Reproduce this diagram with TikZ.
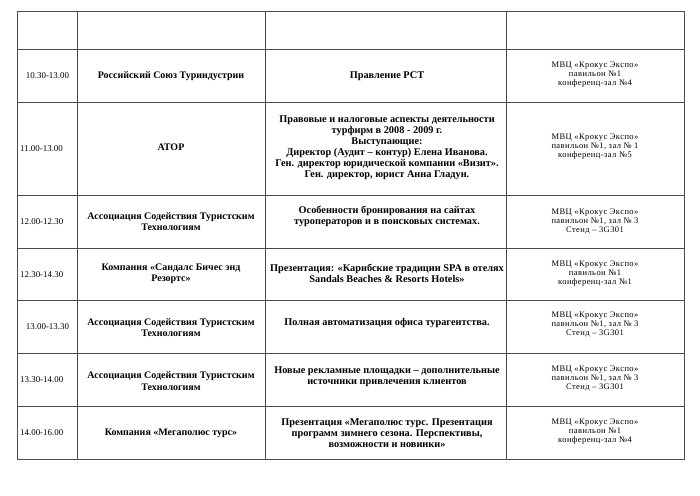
\documentclass[tikz,border=0pt]{standalone}
\usepackage{fontspec}
\setmainfont{Liberation Serif}
\newfontfamily\venuefont[LetterSpace = 5]{Liberation Serif}

\newcommand{\mvc}{МВЦ «Крокус Экспо»}
\newcommand{\acst}{Ассоциация Содействия Туристским\\Технологиям}

\begin{document}
\begin{tikzpicture}[x = 1pt, y = -1pt, every node/.style = {inner sep = 0pt,
	align = center},
	tm/.style = {font = \fontsize{8.9}{10.5}\selectfont},
	org/.style = {font = \fontsize{10}{11.3}\selectfont\bfseries},
	topic/.style = {font = \fontsize{10.3}{11}\selectfont\bfseries},
	venue/.style = {font = \venuefont\fontsize{8.5}{9}\selectfont},
	rule/.style = {draw = black!70, line width = 0.8pt}]

	\useasboundingbox (0, 0) rectangle (700, 495);

	\foreach \y in {49.5, 102.5, 195, 248.3, 300, 353.3, 406.3}
		\draw [rule] (17.5, \y) -- (684.5, \y);
	\foreach \x in {77, 265.5, 506.7}
		\draw [rule] (\x, 12) -- (\x, 459);
	\draw [rule, line width = 1pt] (17.5, 12) rectangle (684.5, 459);

		\node (T2) at (47.5,  76)   [tm] {10.30-13.00};
		\node (T3) at (20,  148.5) [tm, anchor = west] {11.00-13.00};
		\node (T4) at (20,  221.5) [tm, anchor = west] {12.00-12.30};
		\node (T5) at (20,  274.5) [tm, anchor = west] {12.30-14.30};
		\node (T6) at (47.5, 326.7) [tm] {13.00-13.30};
		\node (T7) at (20,  380)   [tm, anchor = west] {13.30-14.00};
		\node (T8) at (20,  433)   [tm, anchor = west] {14.00-16.00};

		\node (ORG2) at (171,  76)   [org] {Российский Союз Туриндустрии};
		\node (ORG3) at (171, 147)   [org] {АТОР};
		\node (ORG4) at (171, 221.7) [org] {\acst};
		\node (ORG5) at (171, 274)   [org] {Компания «Сандалс Бичес энд\\Резортс»};
		\node (ORG6) at (171, 327.5) [org] {\acst};
		\node (ORG7) at (171, 381)   [org] {\acst};
		\node (ORG8) at (171, 433.3) [org] {Компания «Мегаполюс турс»};

		\node (TOP2) at (387,  76)   [topic] {Правление РСТ};
		\node (TOP3) at (387, 148.2) [topic] {Правовые и налоговые аспекты деятельности\\
			турфирм в 2008 - 2009 г.\\Выступающие:\\
			Директор (Аудит – контур) Елена Иванова.\\
			Ген. директор юридической компании «Визит».\\
			Ген. директор, юрист Анна Гладун.};
		\node (TOP4) at (387, 216.7) [topic] {Особенности бронирования на сайтах\\
			туроператоров и в поисковых системах.};
		\node (TOP5) at (387, 273)   [topic] {Презентация: «Карибские традиции SPA в отелях\\
			Sandals Beaches \& Resorts Hotels»};
		\node (TOP6) at (387, 323.3) [topic] {Полная автоматизация офиса турагентства.};
		\node (TOP7) at (387, 376.3) [topic] {Новые рекламные площадки – дополнительные\\
			источники привлечения клиентов};
		\node (TOP8) at (387, 432.8) [topic] {Презентация «Мегаполюс турс. Презентация\\
			программ зимнего сезона. Перспективы,\\возможности и новинки»};

		\node (VEN2) at (595,  74.5) [venue] {\mvc\\павильон №1\\конференц-зал №4};
		\node (VEN3) at (595, 146.7) [venue] {\mvc\\павильон №1, зал № 1\\конференц-зал №5};
		\node (VEN4) at (595, 221.5) [venue] {\mvc\\павильон №1, зал № 3\\Стенд – 3G301};
		\node (VEN5) at (595, 273.5) [venue] {\mvc\\павильон №1\\конференц-зал №1};
		\node (VEN6) at (595, 325)   [venue] {\mvc\\павильон №1, зал № 3\\Стенд – 3G301};
		\node (VEN7) at (595, 379)   [venue] {\mvc\\павильон №1, зал № 3\\Стенд – 3G301};
		\node (VEN8) at (595, 431.5) [venue] {\mvc\\павильон №1\\конференц-зал №4};

\end{tikzpicture}
\end{document}
